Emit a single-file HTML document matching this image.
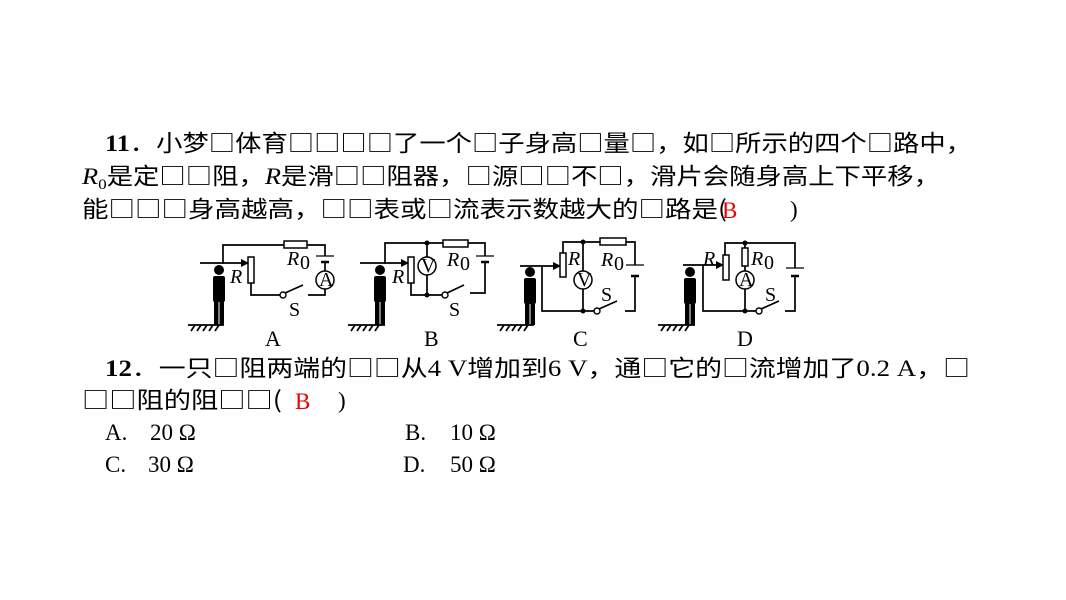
<!DOCTYPE html>
<html><head><meta charset="utf-8"><style>
html,body{margin:0;padding:0;background:#fff;}
svg{display:block;}
.t{font-family:"Liberation Serif","Noto Sans CJK SC",serif;font-size:23px;fill:#000;}
.c{font-family:"Noto Sans CJK SC","WenQuanYi Zen Hei",sans-serif;}
.w{stroke:#000;stroke-width:1.7;fill:none;}
.lb{font-family:"Liberation Serif",serif;font-size:20px;fill:#000;}
.big{font-size:22px;}
</style></head><body>
<svg width="1066" height="600" viewBox="0 0 1066 600" xmlns="http://www.w3.org/2000/svg">
<defs>
<marker id="ar" markerWidth="8" markerHeight="8" refX="7" refY="4" orient="auto" markerUnits="userSpaceOnUse"><path d="M0,0 L8,4 L0,8 z" fill="#000"/></marker>
</defs>
<!-- Question 11 -->
<text class="t" x="105" y="151" textLength="867" lengthAdjust="spacingAndGlyphs"><tspan font-weight="bold">11</tspan><tspan class="c">．小梦□体育□□□□了一个□子身高□量□，如□所示的四个□路中，</tspan></text>
<text class="t" x="82" y="184" textLength="858" lengthAdjust="spacingAndGlyphs"><tspan font-style="italic">R</tspan><tspan font-size="15" dy="5">0</tspan><tspan class="c" dy="-5">是定□□阻，</tspan><tspan font-style="italic">R</tspan><tspan class="c">是滑□□阻器，□源□□不□，滑片会随身高上下平移，</tspan></text>
<text class="t c" x="82" y="217" textLength="645" lengthAdjust="spacingAndGlyphs">能□□□身高越高，□□表或□流表示数越大的□路是(</text>
<text class="t" x="722" y="218" style="fill:#e00">B</text>
<text class="t" x="790" y="217">)</text>

<!-- Circuit A -->
<g>
<line class="w" x1="188" y1="325" x2="224" y2="325"/>
<path class="w" d="M191,331 l4,-6 M197,331 l4,-6 M203,331 l4,-6 M209,331 l4,-6 M215,331 l4,-6" stroke-width="1.2"/>
<circle cx="219" cy="270" r="5"/><rect x="213" y="276" width="12" height="26" rx="2"/><rect x="214" y="300" width="4.5" height="25"/><rect x="219.5" y="300" width="4.5" height="25"/>
<path class="w" d="M223,264 V245 H325 V256"/>
<rect x="284" y="241" width="23" height="7" fill="#fff" stroke="#000" stroke-width="1.5"/>
<line x1="200" y1="263" x2="248" y2="263" class="w" marker-end="url(#ar)"/>
<rect x="248" y="257" width="6" height="26" fill="#fff" stroke="#000" stroke-width="1.5"/>
<line x1="316" y1="256" x2="334" y2="256" stroke="#000" stroke-width="1.2"/>
<line x1="321" y1="262" x2="329" y2="262" stroke="#000" stroke-width="2.5"/>
<path class="w" d="M325,262 V271"/>
<circle cx="325" cy="280" r="9" fill="#fff" stroke="#000" stroke-width="1.5"/>
<text class="lb" x="319" y="286" font-size="15">A</text>
<path class="w" d="M251,283 V295 H280"/>
<circle cx="283" cy="295" r="3" fill="#fff" stroke="#000" stroke-width="1.4"/>
<line class="w" x1="285" y1="293" x2="303" y2="285"/>
<path class="w" d="M308,295 H325 V289"/>
<text class="lb" x="230" y="283" font-style="italic">R</text>
<text class="lb" x="287" y="265" font-style="italic">R</text><text class="lb" x="300" y="269" font-size="15">0</text>
<text class="lb" x="289" y="316">S</text>
<text class="lb big" x="265" y="346">A</text>
</g>

<!-- Circuit B -->
<g>
<line class="w" x1="348" y1="325" x2="385" y2="325"/>
<path class="w" d="M351,331 l4,-6 M357,331 l4,-6 M363,331 l4,-6 M369,331 l4,-6 M375,331 l4,-6" stroke-width="1.2"/>
<circle cx="380" cy="270" r="5"/><rect x="374" y="276" width="12" height="26" rx="2"/><rect x="375" y="300" width="4.5" height="25"/><rect x="380.5" y="300" width="4.5" height="25"/>
<path class="w" d="M385,264 V243 H485 V256"/>
<rect x="443" y="240" width="25" height="7" fill="#fff" stroke="#000" stroke-width="1.5"/>
<line x1="360" y1="263" x2="408" y2="263" class="w" marker-end="url(#ar)"/>
<rect x="408" y="257" width="6" height="26" fill="#fff" stroke="#000" stroke-width="1.5"/>
<line class="w" x1="427" y1="243" x2="427" y2="295"/>
<circle cx="427" cy="243" r="2.5"/><circle cx="427" cy="295" r="2.5"/>
<circle cx="427" cy="266" r="9" fill="#fff" stroke="#000" stroke-width="1.5"/>
<text class="lb" x="421" y="272" font-size="15">V</text>
<line x1="476" y1="256" x2="494" y2="256" stroke="#000" stroke-width="1.2"/>
<line x1="481" y1="262" x2="489" y2="262" stroke="#000" stroke-width="2.5"/>
<path class="w" d="M485,262 V293 H470"/>
<path class="w" d="M411,283 V295 H442"/>
<circle cx="445" cy="295" r="3" fill="#fff" stroke="#000" stroke-width="1.4"/>
<line class="w" x1="447" y1="293" x2="464" y2="285"/>
<text class="lb" x="392" y="283" font-style="italic">R</text>
<text class="lb" x="447" y="266" font-style="italic">R</text><text class="lb" x="460" y="270" font-size="15">0</text>
<text class="lb" x="449" y="316">S</text>
<text class="lb big" x="424" y="346">B</text>
</g>

<!-- Circuit C -->
<g>
<line class="w" x1="497" y1="325" x2="534" y2="325"/>
<path class="w" d="M500,331 l4,-6 M506,331 l4,-6 M512,331 l4,-6 M518,331 l4,-6 M524,331 l4,-6" stroke-width="1.2"/>
<circle cx="530" cy="272" r="5"/><rect x="524" y="278" width="12" height="26" rx="2"/><rect x="525" y="302" width="4.5" height="23"/><rect x="530.5" y="302" width="4.5" height="23"/>
<path class="w" d="M563,253 V242 H635 V265"/>
<rect x="600" y="238" width="26" height="7" fill="#fff" stroke="#000" stroke-width="1.5"/>
<line x1="520" y1="266" x2="560" y2="266" class="w" marker-end="url(#ar)"/>
<path class="w" d="M542,266 V311 H594"/>
<rect x="560" y="253" width="6" height="24" fill="#fff" stroke="#000" stroke-width="1.5"/>
<line class="w" x1="583" y1="242" x2="583" y2="311"/>
<circle cx="583" cy="242" r="2.5"/><circle cx="583" cy="311" r="2.5"/>
<circle cx="583" cy="280" r="9" fill="#fff" stroke="#000" stroke-width="1.5"/>
<text class="lb" x="577" y="286" font-size="15">V</text>
<line x1="626" y1="265" x2="644" y2="265" stroke="#000" stroke-width="1.2"/>
<line x1="631" y1="276" x2="639" y2="276" stroke="#000" stroke-width="2.5"/>
<path class="w" d="M635,276 V311 H625"/>
<circle cx="597" cy="311" r="3" fill="#fff" stroke="#000" stroke-width="1.4"/>
<line class="w" x1="599" y1="309" x2="617" y2="301"/>
<text class="lb" x="568" y="265" font-style="italic">R</text>
<text class="lb" x="601" y="266" font-style="italic">R</text><text class="lb" x="614" y="270" font-size="15">0</text>
<text class="lb" x="601" y="301">S</text>
<text class="lb big" x="573" y="346">C</text>
</g>

<!-- Circuit D -->
<g>
<line class="w" x1="658" y1="325" x2="695" y2="325"/>
<path class="w" d="M661,331 l4,-6 M667,331 l4,-6 M673,331 l4,-6 M679,331 l4,-6 M685,331 l4,-6" stroke-width="1.2"/>
<circle cx="690" cy="272" r="5"/><rect x="684" y="278" width="12" height="26" rx="2"/><rect x="685" y="302" width="4.5" height="23"/><rect x="690.5" y="302" width="4.5" height="23"/>
<path class="w" d="M725,255 V243 H795 V268"/>
<line x1="683" y1="265" x2="723" y2="265" class="w" marker-end="url(#ar)"/>
<path class="w" d="M703,265 V311 H756"/>
<rect x="723" y="255" width="6" height="25" fill="#fff" stroke="#000" stroke-width="1.5"/>
<line class="w" x1="745" y1="243" x2="745" y2="311"/>
<circle cx="745" cy="243" r="2.5"/><circle cx="745" cy="311" r="2.5"/>
<rect x="742" y="248" width="6" height="18" fill="#fff" stroke="#000" stroke-width="1.5"/>
<circle cx="745" cy="280" r="9" fill="#fff" stroke="#000" stroke-width="1.5"/>
<text class="lb" x="739" y="286" font-size="15">A</text>
<line x1="786" y1="268" x2="804" y2="268" stroke="#000" stroke-width="1.2"/>
<line x1="791" y1="276" x2="799" y2="276" stroke="#000" stroke-width="2.5"/>
<path class="w" d="M795,276 V311 H785"/>
<circle cx="759" cy="311" r="3" fill="#fff" stroke="#000" stroke-width="1.4"/>
<line class="w" x1="761" y1="309" x2="779" y2="301"/>
<text class="lb" x="703" y="265" font-style="italic">R</text>
<text class="lb" x="751" y="265" font-style="italic">R</text><text class="lb" x="764" y="269" font-size="15">0</text>
<text class="lb" x="765" y="301">S</text>
<text class="lb big" x="737" y="346">D</text>
</g>

<!-- Question 12 -->
<text class="t" x="105" y="376" textLength="865" lengthAdjust="spacingAndGlyphs"><tspan font-weight="bold">12</tspan><tspan class="c">．一只□阻两端的□□从</tspan>4 V<tspan class="c">增加到</tspan>6 V<tspan class="c">，通□它的□流增加了</tspan>0.2 A<tspan class="c">，□</tspan></text>
<text class="t c" x="82" y="408" textLength="200" lengthAdjust="spacingAndGlyphs">□□阻的阻□□(</text>
<text class="t" x="295" y="409" style="fill:#e00">B</text>
<text class="t" x="338" y="408">)</text>
<text class="t" x="105" y="440">A.</text><text class="t" x="150" y="440">20 Ω</text>
<text class="t" x="405" y="440">B.</text><text class="t" x="450" y="440">10 Ω</text>
<text class="t" x="105" y="472">C.</text><text class="t" x="148" y="472">30 Ω</text>
<text class="t" x="403" y="472">D.</text><text class="t" x="450" y="472">50 Ω</text>
</svg>
</body></html>
